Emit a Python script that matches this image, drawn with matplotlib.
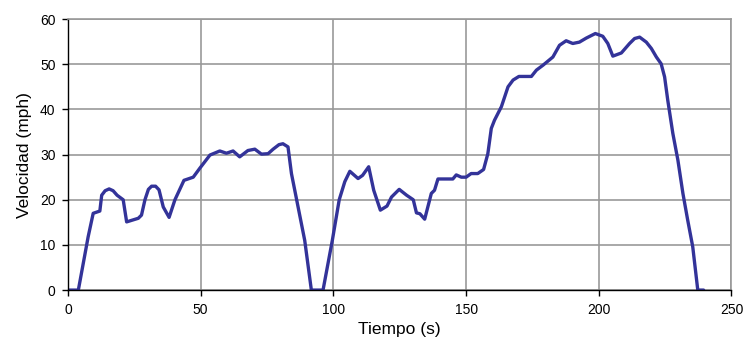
import numpy as np
import matplotlib
matplotlib.use("Agg")
import matplotlib.pyplot as plt

# --- datos ---
tiempo = [0, 3.9, 7.6, 9.5, 12.0, 12.7, 14.0, 15.5, 17.0, 18.5, 20.8, 22.1, 26.5,
          27.7, 29.0, 30.3, 31.5, 33.0, 34.3, 35.9, 38.1, 40.3, 43.7, 47.2, 49.7,
          53.5, 57.2, 59.7, 62.2, 64.7, 67.8, 70.4, 72.9, 75.4, 77.3, 79.5, 81.0,
          82.9, 84.2, 86.7, 89.2, 91.7, 96.1, 99.6, 102.2, 104.3, 106.2, 109.3,
          111.0, 113.3, 115.2, 117.7, 120.2, 121.9, 124.8, 127.6, 130.1, 131.3,
          132.6, 134.4, 136.9, 138.1, 139.4, 145.0, 146.3, 148.2, 150.0, 151.9,
          154.4, 156.6, 158.2, 159.5, 160.7, 163.3, 165.8, 167.7, 169.9, 174.6,
          176.5, 179.0, 182.7, 185.2, 187.7, 190.2, 192.7, 195.3, 198.7, 201.5,
          203.4, 205.3, 208.5, 211.6, 213.5, 215.4, 217.9, 219.8, 221.7, 223.5,
          224.8, 226.0, 227.9, 229.8, 231.7, 233.5, 235.4, 237.3, 239.5]
velocidad = [0, 0, 11.8, 17.0, 17.5, 21.0, 22.0, 22.4, 22.0, 21.0, 20.0, 15.1, 15.9,
             16.6, 20.0, 22.3, 23.0, 23.0, 22.2, 18.4, 16.1, 20.0, 24.3, 25.0, 27.0,
             29.9, 30.8, 30.3, 30.8, 29.5, 30.9, 31.2, 30.1, 30.2, 31.2, 32.2, 32.4,
             31.7, 25.8, 18.4, 11.0, 0, 0, 11.0, 20.0, 24.0, 26.3, 24.7,
             25.4, 27.3, 22.1, 17.7, 18.6, 20.6, 22.3, 21.0, 20.0, 17.1,
             16.9, 15.7, 21.4, 22.1, 24.6, 24.6, 25.5, 25.0, 25.0, 25.8,
             25.8, 26.7, 30.2, 35.8, 37.6, 40.6, 45.0, 46.5, 47.3, 47.3,
             48.7, 49.8, 51.6, 54.2, 55.2, 54.6, 54.9, 55.8, 56.8, 56.2,
             54.6, 51.8, 52.5, 54.6, 55.7, 56.0, 54.9, 53.5, 51.6, 50.1,
             47.2, 42.0, 34.7, 28.8, 21.4, 15.5, 9.6, 0, 0]

xticks = [0, 50, 100, 150, 200, 250]
yticks = [0, 10, 20, 30, 40, 50, 60]

plt.rcParams['font.family'] = ['Liberation Sans', 'DejaVu Sans']

fig = plt.figure(figsize=(7.43, 3.47), dpi=100)
ax = fig.add_axes([0.0915, 0.164, 0.893, 0.781])

ax.plot(tiempo, velocidad, color='#333399', linewidth=2.4,
        solid_joinstyle='round', solid_capstyle='round')

ax.set_xlim(0, 250)
ax.set_ylim(0, 60)
ax.set_xticks(xticks)
ax.set_yticks(yticks)
ax.grid(True, color='#999999', linewidth=1.2)
ax.set_axisbelow(True)

for s in ['top', 'right']:
    ax.spines[s].set_color('#999999')
    ax.spines[s].set_linewidth(1.2)
for s in ['left', 'bottom']:
    ax.spines[s].set_color('black')
    ax.spines[s].set_linewidth(1.0)

ax.tick_params(direction='out', length=4, width=1, labelsize=10, pad=5)
ax.set_xlabel('Tiempo (s)', fontsize=12.5, labelpad=4)
ax.set_ylabel('Velocidad (mph)', fontsize=12.5, labelpad=6)

fig.savefig('out.png', dpi=100)
